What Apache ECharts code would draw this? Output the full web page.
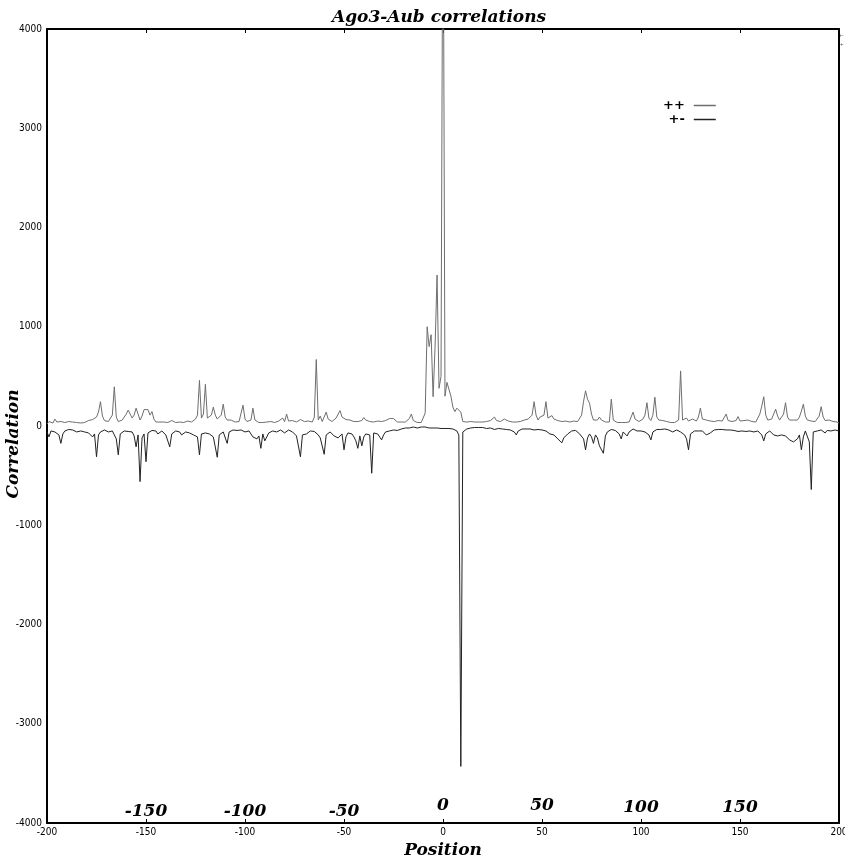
<!DOCTYPE html>
<html>
<head>
<meta charset="utf-8">
<script src="https://cdn.jsdelivr.net/npm/echarts@6/dist/echarts.min.js"></script>
<style>
html,body{margin:0;padding:0;background:#fff;}
#chart{width:845px;height:855px;}
</style>
</head>
<body>
<div id="chart"></div>
<script>
// Positions -200 .. 200 (one point per position)
const positionStart = -200;
const positionEnd = 200;

// "++" correlation values, positions -200 .. 200
const ppValues = [
  20,45,35,30,70,40,35,45,40,35,
  30,45,35,40,30,35,45,30,25,35,
  30,55,40,65,50,90,140,245,100,55,
  50,45,60,110,395,90,45,40,60,90,
  120,160,120,80,110,180,120,60,100,165,
  170,165,110,145,70,40,35,40,35,40,
  45,35,30,55,40,35,30,40,45,35,
  30,50,45,40,55,70,110,460,80,120,
  420,80,60,110,190,110,70,60,110,220,
  90,60,55,60,45,40,50,45,60,210,
  70,45,40,60,180,60,40,35,40,35,
  45,40,55,45,40,35,40,50,60,80,
  45,120,50,70,55,45,40,55,65,50,
  45,40,50,35,40,90,670,60,100,45,
  50,140,70,50,45,60,80,100,155,90,
  70,65,55,60,50,45,50,45,40,55,
  85,60,50,45,55,40,45,50,40,45,
  50,55,45,75,60,75,55,40,35,40,
  45,40,60,75,120,55,40,35,40,35,
  40,130,1000,800,920,295,800,1520,380,500,
  6000,300,440,450,300,190,145,180,195,140,
  45,35,40,30,45,35,40,55,40,45,
  40,50,45,60,55,70,90,55,50,45,
  55,70,55,50,45,40,45,40,35,45,
  50,60,45,70,50,110,245,110,60,90,
  70,110,245,80,60,105,70,50,55,70,
  45,40,50,45,40,55,50,55,45,50,
  110,250,355,270,230,120,60,45,60,90,
  60,45,40,35,40,270,60,40,35,40,
  35,40,35,45,40,60,140,70,50,45,
  55,70,110,235,80,55,110,290,90,60,
  70,55,50,45,40,35,30,35,40,60,
  555,60,70,80,50,60,70,55,50,90,
  180,70,80,60,55,50,60,45,50,55,
  60,50,70,120,55,50,45,50,55,95,
  50,45,55,50,60,50,45,50,40,60,
  120,200,295,110,60,55,70,120,170,100,
  60,80,120,235,90,60,80,60,55,60,
  90,150,220,100,60,55,50,50,45,55,
  100,195,90,55,70,60,50,45,40,40,
  30
];

// "+-" correlation values, positions -200 .. 200
const pmValues = [
  -60,-110,-50,-40,-60,-70,-90,-175,-80,-50,
  -40,-35,-45,-40,-55,-60,-45,-50,-70,-60,
  -50,-70,-90,-110,-80,-310,-90,-60,-45,-40,
  -45,-60,-70,-50,-90,-130,-290,-80,-60,-50,
  -40,-55,-70,-60,-100,-210,-90,-560,-120,-80,
  -360,-70,-50,-45,-60,-50,-80,-60,-50,-70,
  -90,-100,-210,-80,-60,-50,-70,-60,-90,-80,
  -60,-50,-70,-60,-90,-80,-110,-290,-80,-60,
  -70,-90,-80,-60,-110,-130,-315,-90,-70,-60,
  -80,-175,-60,-50,-40,-35,-45,-30,-40,-50,
  -60,-70,-50,-80,-110,-90,-130,-100,-225,-80,
  -150,-140,-70,-60,-50,-45,-60,-50,-40,-60,
  -70,-50,-40,-45,-60,-80,-100,-120,-310,-90,
  -70,-80,-60,-50,-45,-55,-70,-90,-120,-100,
  -285,-90,-70,-60,-80,-100,-90,-120,-100,-80,
  -240,-110,-70,-55,-80,-110,-150,-225,-100,-200,
  -110,-80,-70,-90,-476,-70,-60,-80,-70,-140,
  -90,-60,-70,-50,-60,-40,-55,-45,-40,-30,
  -25,-20,-15,-20,-15,-10,-15,-20,-15,-10,
  -5,-10,-15,-20,-15,-20,-25,-20,-30,-25,
  -20,-25,-20,-25,-20,-30,-35,-50,-90,-3430,
  -60,-40,-30,-25,-20,-20,-15,-20,-15,-20,
  -15,-20,-25,-15,-20,-15,-35,-20,-25,-20,
  -30,-25,-35,-30,-40,-45,-60,-90,-50,-40,
  -30,-35,-30,-25,-30,-35,-40,-30,-35,-45,
  -40,-60,-50,-70,-80,-65,-90,-110,-130,-150,
  -170,-120,-100,-80,-60,-50,-60,-45,-50,-80,
  -100,-130,-240,-120,-80,-110,-175,-90,-120,-200,
  -180,-275,-100,-60,-40,-35,-40,-45,-60,-80,
  -130,-60,-50,-100,-60,-40,-30,-35,-50,-60,
  -50,-40,-60,-70,-90,-140,-60,-40,-35,-30,
  -35,-40,-30,-35,-40,-45,-60,-50,-40,-45,
  -60,-70,-90,-130,-240,-80,-60,-50,-45,-50,
  -60,-50,-70,-90,-110,-70,-50,-40,-45,-35,
  -40,-35,-30,-40,-45,-40,-50,-45,-40,-55,
  -70,-50,-45,-55,-60,-50,-45,-60,-55,-50,
  -70,-90,-150,-80,-60,-50,-70,-90,-80,-100,
  -110,-90,-80,-100,-120,-140,-130,-160,-150,-130,
  -90,-240,-110,-50,-70,-160,-640,-60,-40,-50,
  -60,-40,-55,-70,-45,-60,-50,-70,-40,-60,
  -50
];

// Axis tick settings
const xTickStep = 50;
const yTickStep = 1000;
const yMin = -4000, yMax = 4000;
// Large in-plot position labels
const bigLabels = [-150, -100, -50, 0, 50, 100, 150];
const seriesNames = ['++', '+-'];

function toPairs(values) {
  const out = [];
  for (let i = 0; i < values.length; i++) out.push([positionStart + i, values[i]]);
  return out;
}

const serifBI = { fontFamily: 'DejaVu Serif', fontStyle: 'italic', fontWeight: 'bold', color: '#000' };
const smallFont = { fontFamily: 'Liberation Sans Narrow, DejaVu Sans Condensed, sans-serif', fontSize: 10, color: '#000' };
const plainNum = function (v) { return String(v); };

const chart = echarts.init(document.getElementById('chart'), null, { renderer: 'canvas' });
chart.setOption({
  animation: false,
  backgroundColor: '#fff',
  title: {
    text: 'Ago3-Aub correlations',
    left: 327, top: 4,
    textStyle: Object.assign({ fontSize: 17 }, serifBI)
  },
  legend: {
    data: seriesNames,
    orient: 'vertical',
    left: 658, top: 94,
    align: 'right',
    icon: 'rect',
    itemWidth: 22, itemHeight: 1.5,
    itemGap: 1,
    textStyle: { fontFamily: 'DejaVu Sans', fontWeight: 'bold', fontSize: 13, color: '#000', padding: [0, 4, 0, 0] }
  },
  grid: { left: 47, right: 6, top: 29, bottom: 32, containLabel: false, outerBoundsMode: 'none' },
  xAxis: [
    {
      type: 'value', min: positionStart, max: positionEnd, interval: xTickStep,
      position: 'bottom',
      name: 'Position', nameLocation: 'middle', nameGap: 19, nameMoveOverlap: false,
      nameTextStyle: Object.assign({ fontSize: 17 }, serifBI),
      axisLine: { show: true, onZero: false, lineStyle: { color: '#000', width: 2 } },
      axisTick: { show: true, inside: true, length: 4, lineStyle: { color: '#000' } },
      axisLabel: Object.assign({ margin: 4, formatter: plainNum }, smallFont),
      splitLine: { show: false }
    },
    {
      type: 'value', min: positionStart, max: positionEnd, interval: xTickStep,
      position: 'bottom',
      axisLine: { show: false, onZero: false },
      axisTick: { show: false },
      splitLine: { show: false },
      axisLabel: {
        inside: true, margin: 3,
        formatter: function (v) {
          if (bigLabels.indexOf(v) < 0) return '';
          const cls = (v === 0 || v === 50) ? 'hi' : (v > 50 ? 'mid' : 'lo');
          return '{' + cls + '|' + v + '}';
        },
        rich: {
          lo: Object.assign({ fontSize: 17, padding: [0, 0, 0, 0] }, serifBI),
          mid: Object.assign({ fontSize: 17, padding: [0, 0, 4, 0] }, serifBI),
          hi: Object.assign({ fontSize: 17, padding: [0, 0, 6, 0] }, serifBI)
        }
      }
    },
    {
      type: 'value', min: positionStart, max: positionEnd, interval: xTickStep,
      position: 'top',
      axisLine: { show: true, onZero: false, lineStyle: { color: '#000', width: 2 } },
      axisTick: { show: true, inside: true, length: 4, lineStyle: { color: '#000' } },
      axisLabel: { show: false },
      splitLine: { show: false }
    }
  ],
  yAxis: [
    {
      type: 'value', min: yMin, max: yMax, interval: yTickStep,
      position: 'left',
      name: 'Correlation', nameLocation: 'middle', nameGap: 25, nameRotate: 90, nameMoveOverlap: false,
      nameTextStyle: Object.assign({ fontSize: 17, padding: [0, 36, 0, 0] }, serifBI),
      axisLine: { show: true, onZero: false, lineStyle: { color: '#000', width: 2 } },
      axisTick: { show: false },
      axisLabel: Object.assign({ margin: 5, formatter: plainNum }, smallFont),
      splitLine: { show: false }
    },
    {
      type: 'value', min: yMin, max: yMax, interval: yTickStep,
      position: 'right',
      axisLine: { show: true, onZero: false, lineStyle: { color: '#000', width: 2 } },
      axisTick: { show: false },
      axisLabel: { show: false },
      splitLine: { show: false }
    }
  ],
  graphic: [
    { type: 'text', left: 839, top: 33, style: { text: '+-', fontSize: 5, fill: '#555' } },
    { type: 'text', left: 840, top: 41, style: { text: '+', fontSize: 6, fill: '#555' } }
  ],
  series: [
    {
      name: seriesNames[0], type: 'line', xAxisIndex: 0, yAxisIndex: 0,
      data: toPairs(ppValues), showSymbol: false, symbol: 'none', smooth: false,
      lineStyle: { color: '#6e6e6e', width: 1 }, itemStyle: { color: '#6e6e6e' },
      clip: true, z: 3
    },
    {
      name: seriesNames[1], type: 'line', xAxisIndex: 0, yAxisIndex: 0,
      data: toPairs(pmValues), showSymbol: false, symbol: 'none', smooth: false,
      lineStyle: { color: '#222', width: 1 }, itemStyle: { color: '#222' },
      clip: true, z: 2
    }
  ]
});
</script>
</body>
</html>
